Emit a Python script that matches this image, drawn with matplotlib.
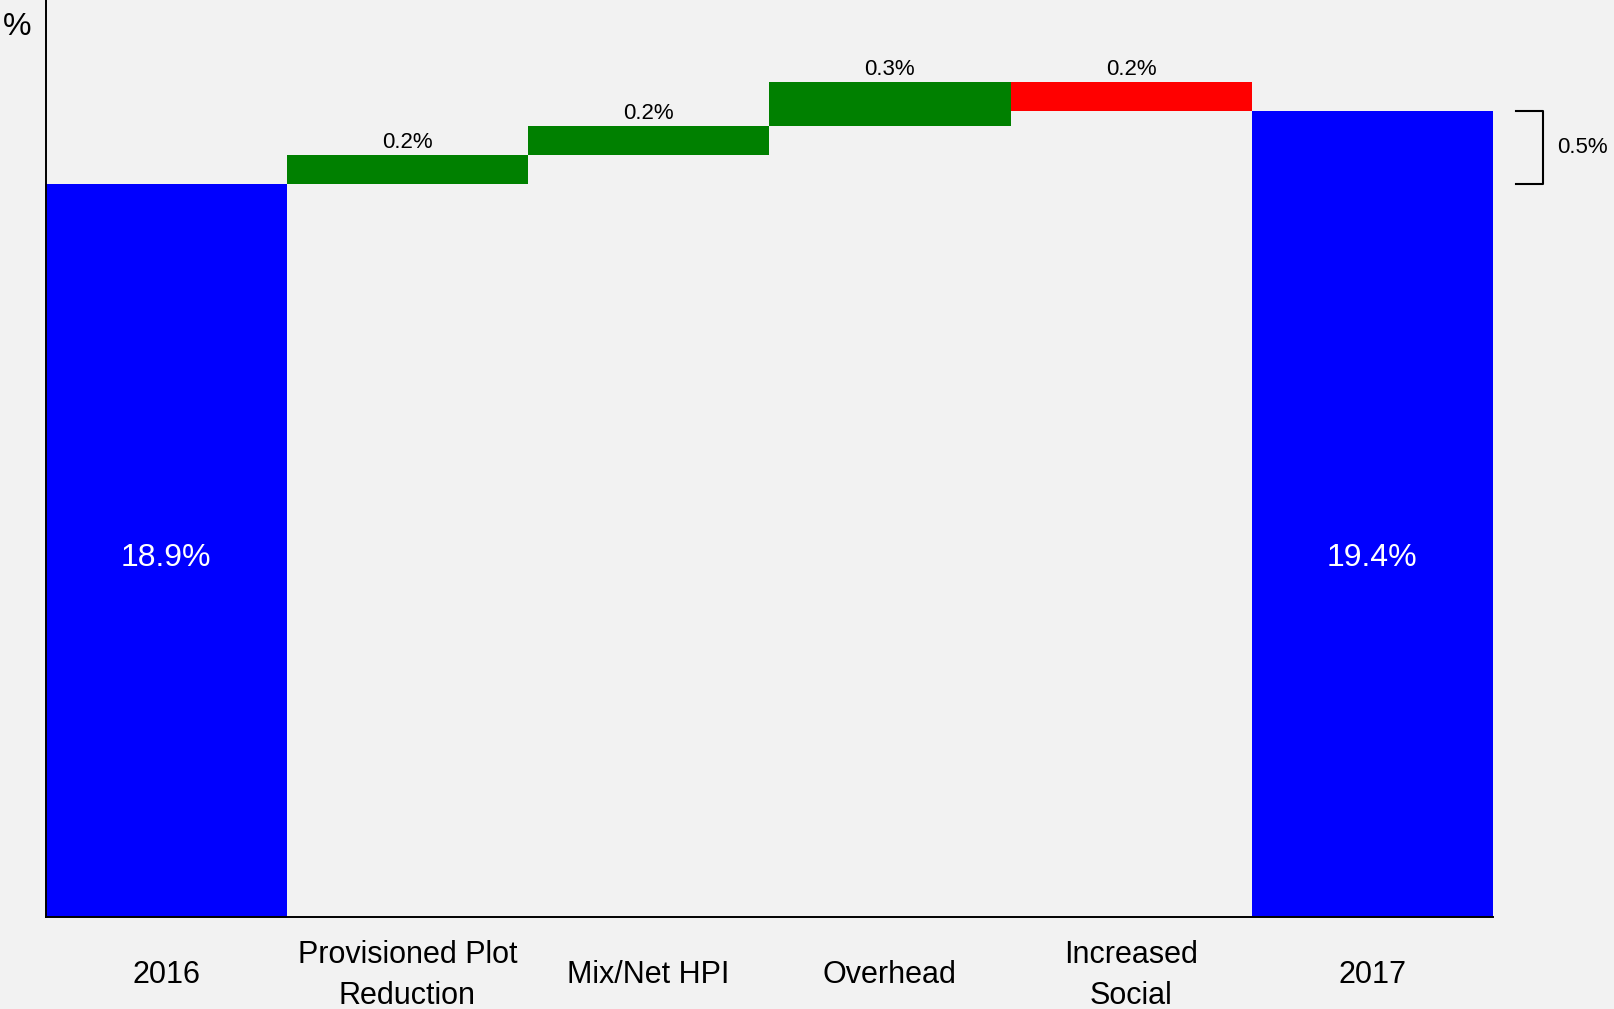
import matplotlib
matplotlib.use("Agg")
import matplotlib.pyplot as plt
import numpy as np

# 数据
categories = ["2016", "Provisioned Plot\nReduction", "Mix/Net HPI", "Overhead", "Increased\nSocial", "2017"]
start_value = 18.9
changes = [0.2, 0.2, 0.3, -0.2]
end_value = 19.4
change_labels = ["0.2%", "0.2%", "0.3%", "0.2%"]
bracket_label = "0.5%"

plt.rcParams['font.family'] = ['Liberation Sans', 'DejaVu Sans']
bg = "#f2f2f2"
W, H = 1614, 1009

fig = plt.figure(figsize=(W / 100, H / 100), dpi=100, facecolor=bg)
ax = fig.add_axes([45.5 / W, (H - 917) / H, (1493 - 45.5) / W, 917 / H])
ax.set_facecolor(bg)

ymin = 13.88
ymax = 20.16
x = np.arange(len(categories))

# 起止柱
ax.bar(x[0], start_value - ymin, bottom=ymin, width=1.0, color="#0000ff")
ax.bar(x[-1], end_value - ymin, bottom=ymin, width=1.0, color="#0000ff")
ax.text(x[0], 16.34, f"{start_value}%", color="white", ha="center", va="center", fontsize=23)
ax.text(x[-1], 16.34, f"{end_value}%", color="white", ha="center", va="center", fontsize=23)

# 变化柱
level = start_value
for i, (d, lab) in enumerate(zip(changes, change_labels)):
    xi = x[i + 1]
    col = "#008000" if d > 0 else "#ff0000"
    bottom = level if d > 0 else level + d
    ax.bar(xi, abs(d), bottom=bottom, width=1.0, color=col)
    top = max(level, level + d)
    ax.annotate(lab, (xi, top), xytext=(0, 5), textcoords="offset points",
                ha="center", va="baseline", fontsize=16)
    level += d

# 右侧括号
bx0, bx1 = 5.595, 5.707
ax.plot([bx0, bx1, bx1, bx0], [end_value, end_value, start_value, start_value],
        color="black", lw=1.5, clip_on=False)
ax.text(5.765, (start_value + end_value) / 2, bracket_label, ha="left", va="center", fontsize=16)

ax.set_xlim(-0.5, 5.5)
ax.set_ylim(ymin, ymax)
ax.set_xticks(x)
ax.set_xticklabels(categories, fontsize=22, linespacing=1.48)
for t in ax.get_xticklabels():
    t.set_va("center")
ax.tick_params(axis="x", length=0, pad=42)
ax.set_yticks([])
for s in ["top", "right"]:
    ax.spines[s].set_visible(False)
ax.spines["left"].set_linewidth(1.4)
ax.spines["bottom"].set_linewidth(1.4)

fig.text(17 / W, 1 - 27 / H, "%", ha="center", va="center", fontsize=23)

fig.savefig("out.png", dpi=100, facecolor=bg)
